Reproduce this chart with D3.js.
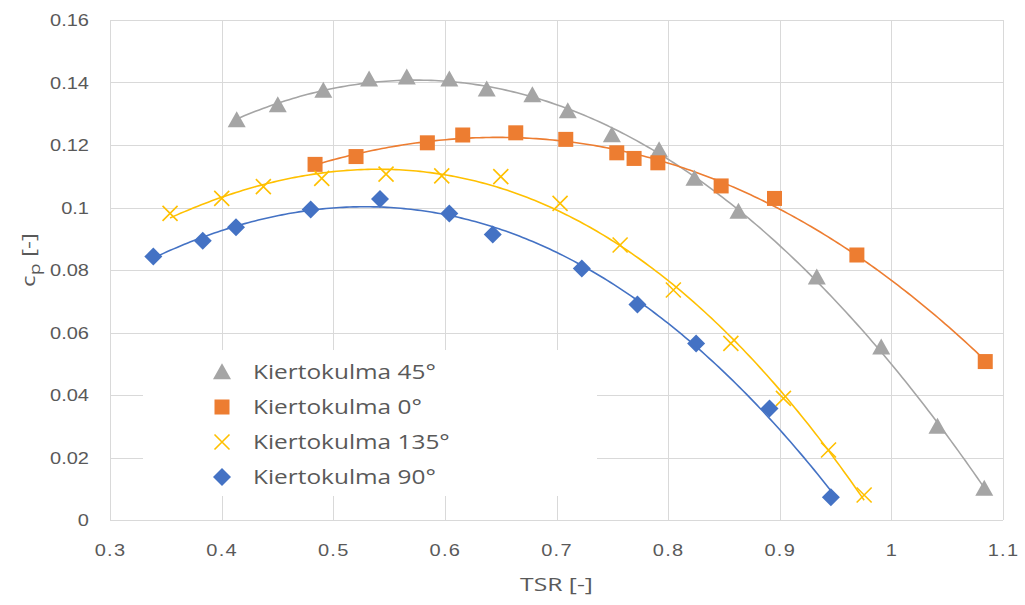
<!DOCTYPE html>
<html>
<head>
<meta charset="utf-8">
<script src="https://cdn.jsdelivr.net/npm/d3@7"></script>
<style>
  html, body { margin: 0; padding: 0; background: #fff; }
  svg { display: block; font-family: "Open Sans", "DejaVu Sans", sans-serif; }
</style>
</head>
<body>
<svg id="chart" width="1025" height="605"></svg>
<script>
// ---- Data ----
const seriesNames = ["Kiertokulma 45°", "Kiertokulma 0°", "Kiertokulma 135°", "Kiertokulma 90°"];
const xTicks = [0.3, 0.4, 0.5, 0.6, 0.7, 0.8, 0.9, 1, 1.1];
const yTicks = [0, 0.02, 0.04, 0.06, 0.08, 0.1, 0.12, 0.14, 0.16];

const tsr45 = [0.4135, 0.4503, 0.4911, 0.5321, 0.5659, 0.604, 0.6375, 0.6784, 0.7101, 0.7496, 0.7919, 0.8236, 0.863, 0.9332, 0.9909, 1.0413, 1.0832];
const cp45  = [0.128, 0.1328, 0.1374, 0.141, 0.1417, 0.141, 0.1378, 0.136, 0.1309, 0.1232, 0.1184, 0.1093, 0.0987, 0.0777, 0.0553, 0.0299, 0.0101];

const tsr0 = [0.4837, 0.5204, 0.5843, 0.616, 0.6635, 0.7083, 0.754, 0.7695, 0.7908, 0.8475, 0.8953, 0.9691, 1.0841];
const cp0  = [0.1138, 0.1163, 0.1207, 0.1232, 0.1239, 0.1218, 0.1175, 0.1157, 0.1143, 0.1069, 0.1029, 0.0848, 0.0507];

const tsr135 = [0.3538, 0.4001, 0.4374, 0.4897, 0.5473, 0.5972, 0.6501, 0.7032, 0.757, 0.8047, 0.8562, 0.9033, 0.9437, 0.9756];
const cp135  = [0.0981, 0.1029, 0.1067, 0.1093, 0.1107, 0.1101, 0.1099, 0.1013, 0.088, 0.0736, 0.0565, 0.0389, 0.0224, 0.008];

const tsr90 = [0.3388, 0.3831, 0.4129, 0.4798, 0.5419, 0.604, 0.6429, 0.7227, 0.7725, 0.8251, 0.8908, 0.9458];
const cp90  = [0.0843, 0.0894, 0.0937, 0.0994, 0.1027, 0.0981, 0.0914, 0.0805, 0.069, 0.0565, 0.0357, 0.0073];

const colors = ["#A5A5A5", "#ED7D31", "#FFC000", "#4472C4"];
const markers = ["triangle", "square", "cross", "diamond"];

const series = [
  { name: seriesNames[0], x: tsr45, y: cp45, color: colors[0], marker: markers[0] },
  { name: seriesNames[1], x: tsr0, y: cp0, color: colors[1], marker: markers[1] },
  { name: seriesNames[2], x: tsr135, y: cp135, color: colors[2], marker: markers[2] },
  { name: seriesNames[3], x: tsr90, y: cp90, color: colors[3], marker: markers[3] }
];

// ---- Layout ----
const svg = d3.select("#chart");
const plot = { left: 110, right: 1003, top: 20, bottom: 520 };
const x = d3.scaleLinear().domain([0.3, 1.1]).range([plot.left, plot.right]);
const y = d3.scaleLinear().domain([0, 0.16]).range([plot.bottom, plot.top]);

const textColor = "#595959";
const gridColor = "#D9D9D9";
const stretch = 1.25; // reference text is horizontally wide

// gridlines
svg.append("g").selectAll("line.h").data(yTicks).join("line")
  .attr("x1", plot.left).attr("x2", plot.right)
  .attr("y1", d => Math.round(y(d)) + 0.5).attr("y2", d => Math.round(y(d)) + 0.5)
  .attr("stroke", gridColor).attr("stroke-width", 1);
svg.append("g").selectAll("line.v").data(xTicks).join("line")
  .attr("y1", plot.top).attr("y2", plot.bottom)
  .attr("x1", d => Math.round(x(d)) + 0.5).attr("x2", d => Math.round(x(d)) + 0.5)
  .attr("stroke", gridColor).attr("stroke-width", 1);

// axes (labels only)
const fmt = d => String(+d.toFixed(2));
const xAxis = d3.axisBottom(x).tickValues(xTicks).tickSize(0).tickPadding(0).tickFormat(fmt);
const gx = svg.append("g").attr("transform", `translate(0,${plot.bottom})`).call(xAxis);
gx.select(".domain").remove();
gx.selectAll("text").attr("y", 0).attr("dy", null)
  .attr("transform", `translate(0,36) scale(${stretch},1)`)
  .attr("fill", textColor).style("font-size", "16px").style("letter-spacing", "1px");

const yAxis = d3.axisLeft(y).tickValues(yTicks).tickSize(0).tickPadding(0).tickFormat(fmt);
const gy = svg.append("g").attr("transform", `translate(${plot.left},0)`).call(yAxis);
gy.select(".domain").remove();
gy.selectAll("text").attr("x", 0).attr("dy", "0.35em")
  .attr("transform", `translate(-21,0) scale(${stretch},1)`)
  .attr("fill", textColor).style("font-size", "16px");

// axis titles
svg.append("text")
  .attr("transform", `translate(${(plot.left + plot.right) / 2},591) scale(1.3,1)`)
  .attr("text-anchor", "middle").attr("fill", textColor).style("font-size", "19px")
  .text("TSR [-]");
const yt = svg.append("text")
  .attr("transform", `translate(35,260) rotate(-90) scale(1.3,1)`)
  .attr("text-anchor", "middle").attr("fill", textColor).style("font-size", "19px");
yt.append("tspan").text("c");
yt.append("tspan").attr("dy", 5).style("font-size", "15px").text("p");
yt.append("tspan").attr("dy", -5).text(" [-]");

// polynomial least-squares fit (Excel-like trendline)
function polyfit(xs, ys, order) {
  const n = order + 1;
  const A = Array.from({ length: n }, () => new Array(n + 1).fill(0));
  for (let i = 0; i < xs.length; i++) {
    for (let r = 0; r < n; r++) {
      for (let c = 0; c < n; c++) A[r][c] += Math.pow(xs[i], r + c);
      A[r][n] += ys[i] * Math.pow(xs[i], r);
    }
  }
  for (let col = 0; col < n; col++) {
    let piv = col;
    for (let r = col + 1; r < n; r++) if (Math.abs(A[r][col]) > Math.abs(A[piv][col])) piv = r;
    [A[col], A[piv]] = [A[piv], A[col]];
    for (let r = 0; r < n; r++) {
      if (r === col) continue;
      const f = A[r][col] / A[col][col];
      for (let c = col; c <= n; c++) A[r][c] -= f * A[col][c];
    }
  }
  return A.map((row, i) => row[n] / row[i]);
}

const line = d3.line().x(d => x(d[0])).y(d => y(d[1])).curve(d3.curveLinear);

// trendlines
series.forEach(s => {
  const coef = polyfit(s.x, s.y, 3);
  const x0 = d3.min(s.x), x1 = d3.max(s.x);
  const pts = d3.range(0, 201).map(i => {
    const xv = x0 + (x1 - x0) * i / 200;
    return [xv, coef.reduce((acc, c, k) => acc + c * Math.pow(xv, k), 0)];
  });
  svg.append("path").datum(pts).attr("d", line)
    .attr("fill", "none").attr("stroke", s.color).attr("stroke-width", 1.6);
});

// marker drawing
function drawMarker(g, type, color, cx, cy, scale = 1) {
  if (type === "triangle") {
    const w = 18 * scale, h = 16 * scale;
    g.append("path").attr("d", `M${cx},${cy - h * 0.55} L${cx + w / 2},${cy + h * 0.45} L${cx - w / 2},${cy + h * 0.45} Z`)
      .attr("fill", color);
  } else if (type === "square") {
    const a = 15 * scale;
    g.append("rect").attr("x", cx - a / 2).attr("y", cy - a / 2).attr("width", a).attr("height", a).attr("fill", color);
  } else if (type === "diamond") {
    const r = 9 * scale;
    g.append("path").attr("d", `M${cx},${cy - r} L${cx + r},${cy} L${cx},${cy + r} L${cx - r},${cy} Z`).attr("fill", color);
  } else if (type === "cross") {
    const r = 7.5 * scale;
    g.append("path").attr("d", `M${cx - r},${cy - r} L${cx + r},${cy + r} M${cx - r},${cy + r} L${cx + r},${cy - r}`)
      .attr("stroke", color).attr("stroke-width", 1.6).attr("fill", "none");
  }
}

// markers
series.forEach(s => {
  const g = svg.append("g");
  s.x.forEach((xv, i) => drawMarker(g, s.marker, s.color, x(xv), y(s.y[i])));
});

// legend
const lg = svg.append("g");
lg.append("rect").attr("x", 143).attr("y", 350).attr("width", 454).attr("height", 146).attr("fill", "#fff");
series.forEach((s, i) => {
  const cy = 372 + i * 35;
  drawMarker(lg, s.marker, s.color, 222, cy, 1);
  lg.append("text").attr("transform", `translate(253,${cy}) scale(1.22,1)`)
    .attr("dy", "0.35em")
    .attr("fill", textColor).style("font-size", "20px").text(s.name);
});
</script>
</body>
</html>
